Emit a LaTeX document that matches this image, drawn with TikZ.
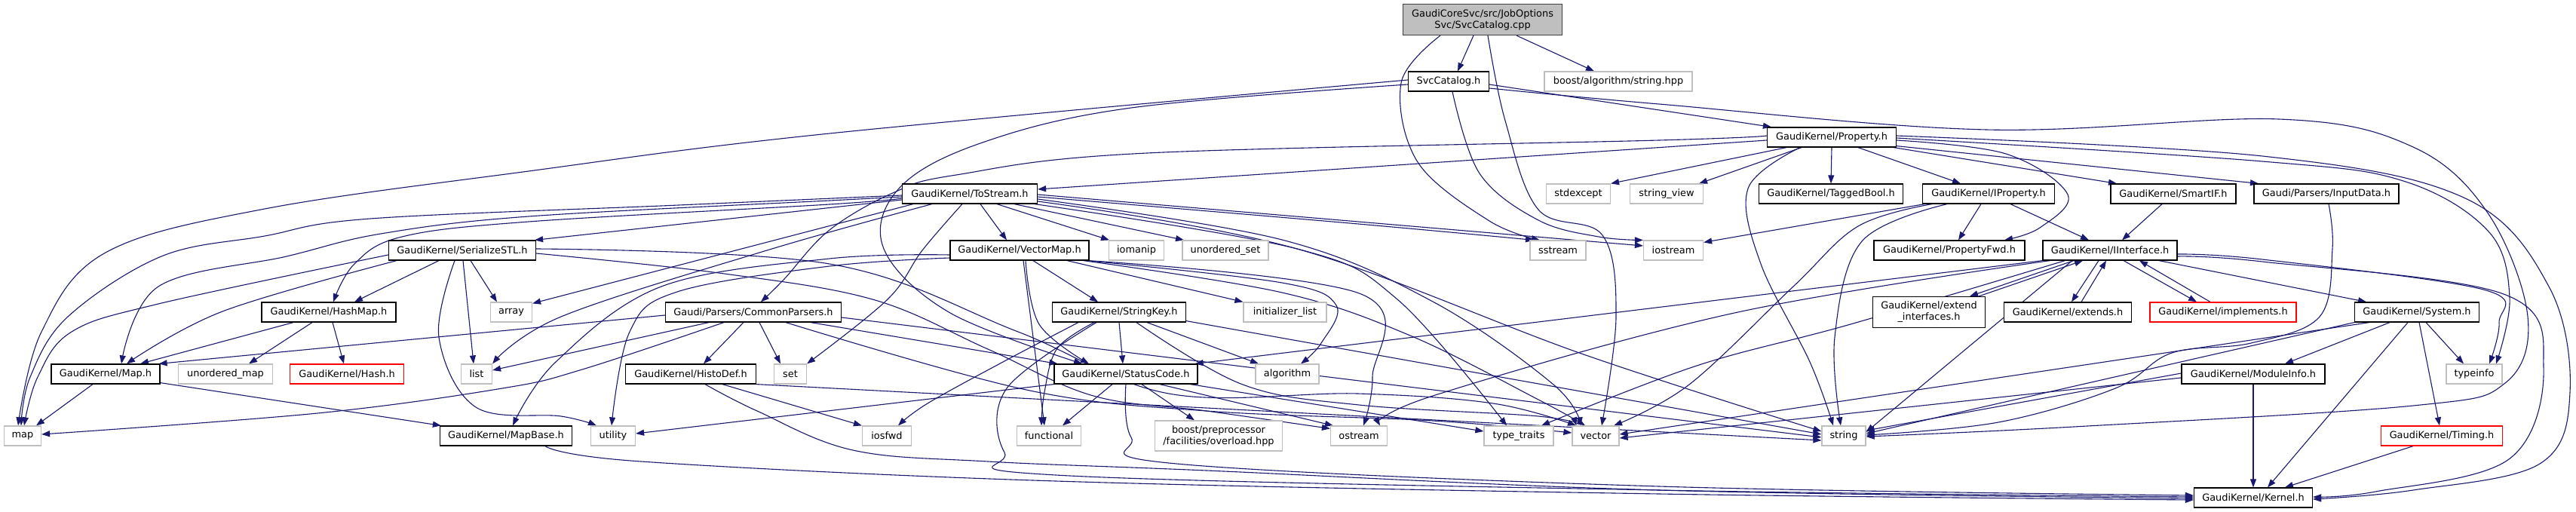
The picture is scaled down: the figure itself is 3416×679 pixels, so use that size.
\documentclass[tikz,border=0pt]{standalone}
\usepackage{fontspec}
\setmainfont{DejaVu Sans}
\usetikzlibrary{arrows.meta}
\definecolor{edgeblue}{HTML}{191970}
\definecolor{sysgray}{HTML}{BFBFBF}
\definecolor{rootborder}{HTML}{404040}
\pgfdeclarelayer{background}
\pgfdeclarelayer{edges}
\pgfsetlayers{background,edges,main}
\newcommand{\nodefont}{\fontsize{12.9bp}{15bp}\selectfont}
\tikzset{
  nd/.style={draw=black, line width=1.2bp, fill=white, minimum height=26bp, inner sep=0pt, font=\nodefont, align=center},
  sysnd/.style={nd, draw=sysgray},
  rednd/.style={nd, draw=red},
  rootnd/.style={nd, draw=rootborder, fill=sysgray, minimum height=41bp},
  e/.style={draw=edgeblue, line width=1.1bp, -{Triangle[length=11bp,width=8bp]}},
  sm/.style={smooth, tension=0.6}
}
\begin{document}
\begin{tikzpicture}[x=1bp, y=-1bp]
\begin{pgfonlayer}{background}
\fill[white] (0,0) rectangle (3416,679);
\end{pgfonlayer}
\useasboundingbox (0,0) rectangle (3416,679);
% ---- nodes ----
\node[rootnd, minimum width=211bp] (root) at (1966,26) {GaudiCoreSvc/src/JobOptions\\Svc/SvcCatalog.cpp};
\node[nd, minimum width=107bp] (svch) at (1921,108) {SvcCatalog.h};
\node[sysnd, minimum width=196bp] (boost) at (2146,108) {boost/algorithm/string.hpp};
\node[nd, minimum width=171bp] (prop) at (2429,182) {GaudiKernel/Property.h};
\node[nd, minimum width=179bp] (tostream) at (1286,257) {GaudiKernel/ToStream.h};
\node[sysnd, minimum width=85bp] (stdexcept) at (2093,257) {stdexcept};
\node[sysnd, minimum width=97bp] (stringview) at (2210,257) {string\_view};
\node[nd, minimum width=191bp] (tagged) at (2428,257) {GaudiKernel/TaggedBool.h};
\node[nd, minimum width=175bp] (iprop) at (2637,257) {GaudiKernel/IProperty.h};
\node[nd, minimum width=166bp] (smartif) at (2882,257) {GaudiKernel/SmartIF.h};
\node[nd, minimum width=192bp] (inputdata) at (3085,257) {Gaudi/Parsers/InputData.h};
\node[nd, minimum width=195bp] (serial) at (613,332) {GaudiKernel/SerializeSTL.h};
\node[nd, minimum width=184bp] (vectormap) at (1352,332) {GaudiKernel/VectorMap.h};
\node[sysnd, minimum width=73bp] (iomanip) at (1507,332) {iomanip};
\node[sysnd, minimum width=114bp] (unordset) at (1625,332) {unordered\_set};
\node[sysnd, minimum width=74bp] (sstream) at (2066,332) {sstream};
\node[sysnd, minimum width=79bp] (iostream) at (2219,332) {iostream};
\node[nd, minimum width=200bp] (propfwd) at (2585,332) {GaudiKernel/PropertyFwd.h};
\node[nd, minimum width=178bp] (iinterface) at (2798,332) {GaudiKernel/IInterface.h};
\node[nd, minimum width=178bp] (hashmap) at (436,414) {GaudiKernel/HashMap.h};
\node[sysnd, minimum width=55bp] (array) at (678,414) {array};
\node[nd, minimum width=233bp] (commonparsers) at (999,414) {Gaudi/Parsers/CommonParsers.h};
\node[nd, minimum width=177bp] (stringkey) at (1484,414) {GaudiKernel/StringKey.h};
\node[sysnd, minimum width=110bp] (initlist) at (1704,414) {initializer\_list};
\node[nd, minimum width=149bp, minimum height=41bp] (extendif) at (2558,414) {GaudiKernel/extend\\\_interfaces.h};
\node[nd, minimum width=169bp] (extends) at (2742,414) {GaudiKernel/extends.h};
\node[rednd, minimum width=194bp] (implements) at (2948,414) {GaudiKernel/implements.h};
\node[nd, minimum width=165bp] (system) at (3205,414) {GaudiKernel/System.h};
\node[nd, minimum width=144bp] (mapH) at (140,496) {GaudiKernel/Map.h};
\node[sysnd, minimum width=125bp] (unordmap) at (299,496) {unordered\_map};
\node[rednd, minimum width=151bp] (hash) at (460,496) {GaudiKernel/Hash.h};
\node[sysnd, minimum width=41bp] (list) at (632,496) {list};
\node[nd, minimum width=173bp] (histodef) at (916,496) {GaudiKernel/HistoDef.h};
\node[sysnd, minimum width=43bp] (set) at (1048,496) {set};
\node[nd, minimum width=190bp] (statuscode) at (1493,496) {GaudiKernel/StatusCode.h};
\node[sysnd, minimum width=84bp] (algorithm) at (1707,496) {algorithm};
\node[nd, minimum width=190bp] (moduleinfo) at (2988,496) {GaudiKernel/ModuleInfo.h};
\node[sysnd, minimum width=74bp] (typeinfo) at (3281,496) {typeinfo};
\node[sysnd, minimum width=49bp] (map) at (30,578) {map};
\node[nd, minimum width=175bp] (mapbase) at (671,578) {GaudiKernel/MapBase.h};
\node[sysnd, minimum width=59bp] (utility) at (813,578) {utility};
\node[sysnd, minimum width=65bp] (iosfwd) at (1176,578) {iosfwd};
\node[sysnd, minimum width=85bp] (functional) at (1391,578) {functional};
\node[sysnd, minimum width=169bp, minimum height=40bp] (boostpp) at (1616,578) {boost/preprocessor\\/facilities/overload.hpp};
\node[sysnd, minimum width=75bp] (ostream) at (1802,578) {ostream};
\node[sysnd, minimum width=92bp] (typetraits) at (2014,578) {type\_traits};
\node[sysnd, minimum width=62bp] (vector) at (2116,578) {vector};
\node[sysnd, minimum width=58bp] (string) at (2445,578) {string};
\node[rednd, minimum width=161bp] (timing) at (3238,578) {GaudiKernel/Timing.h};
\node[nd, minimum width=157bp] (kernel) at (2988,660) {GaudiKernel/Kernel.h};
% ---- edges ----
\begin{pgfonlayer}{edges}
% root
\draw[e] ([xshift=-12bp]root.south) -- ([xshift=12bp]svch.north);
\draw[e] ([xshift=45bp]root.south) -- ([xshift=-32bp]boost.north);
\draw[e] plot[sm] coordinates {([xshift=-56bp]root.south) (1858,110) (1880,215) (1975,293) ([xshift=-24bp]sstream.north)};
\draw[e] plot[sm] coordinates {([xshift=7bp]root.south) (1996,160) (2040,278) (2125,312) (2143,420) ([xshift=8bp]vector.north)};
% svch
\draw[e] ([yshift=-4bp]svch.east) -- ([xshift=6bp]prop.north west);
\draw[e] plot[sm] coordinates {([yshift=-9bp]svch.east) (2200,138) (2634,172) (3022,158) (3200,195) (3300,284) (3352,420) (3322,508) (3200,538) (2750,566) ([yshift=-1bp]string.east)};
\draw[e] plot[sm] coordinates {([yshift=2bp]svch.west) (1100,177) (701,227) (351,277) (140,335) (55,440) ([xshift=-6bp]map.north)};
\draw[e] plot[sm] coordinates {([yshift=-4bp]svch.west) (1500,143) (1300,190) (1192,250) (1172,330) (1260,415) ([xshift=-58bp]statuscode.north)};
\draw[e] plot[sm] coordinates {([xshift=5bp]svch.south) (1962,230) (2040,292) (2120,314) (iostream.north west)};
% prop
\draw[e] ([yshift=-4bp]prop.west) -- ([yshift=6bp]tostream.east);
\draw[e] plot[sm] coordinates {([yshift=2bp]prop.west) (2200,186) (1521,203) (1268,232) (1186,255) (1100,305) (1040,370) ([xshift=10bp]commonparsers.north)};
\draw[e] ([xshift=-60bp]prop.south) -- (stdexcept.north east);
\draw[e] ([xshift=-40bp]prop.south) -- ([xshift=-6bp]stringview.north east);
\draw[e] plot[sm] coordinates {([xshift=-42bp]prop.south) (2318,250) (2335,350) (2400,480) ([xshift=-14bp]string.north)};
\draw[e] (prop.south) -- (tagged.north);
\draw[e] ([xshift=35bp]prop.south) -- ([xshift=-37bp]iprop.north);
\draw[e] ([xshift=-4bp]prop.south east) -- ([xshift=-75bp]smartif.north);
\draw[e] ([yshift=2bp]prop.south east) -- ([xshift=-90bp]inputdata.north);
\draw[e] plot[sm] coordinates {([yshift=-4bp]prop.east) (2660,204) (2742,258) (2705,302) ([xshift=73bp]propfwd.north)};
\draw[e] plot[sm] coordinates {([yshift=-1bp]prop.east) (3000,214) (3187,240) (3300,307) (3328,395) ([xshift=29bp]typeinfo.north)};
\draw[e] plot[sm] coordinates {([yshift=2bp]prop.east) (3000,207) (3267,262) (3380,380) (3408,520) (3368,615) (3200,650) ([yshift=-2bp]kernel.east)};
% iprop
\draw[e] ([xshift=-85bp]iprop.south) -- ([yshift=-3bp]iostream.north east);
\draw[e] plot[sm] coordinates {([xshift=-75bp]iprop.south) (2464,300) (2378,380) (2240,510) ([xshift=24bp]vector.north)};
\draw[e] plot[sm] coordinates {([xshift=-55bp]iprop.south) (2469,320) (2433,447) ([xshift=-4bp]string.north)};
\draw[e] ([xshift=-10bp]iprop.south) -- ([xshift=12bp]propfwd.north);
\draw[e] ([xshift=29bp]iprop.south) -- ([xshift=-28bp]iinterface.north);
% smartif, inputdata
\draw[e] ([xshift=-15bp]smartif.south) -- ([xshift=16bp]iinterface.north);
\draw[e] plot[sm] coordinates {([xshift=3bp]inputdata.south) (3093,330) (3076,420) (2985,455) (2880,468) (2805,515) (2650,560) ([yshift=1bp]string.east)};
% iinterface
\draw[e] ([xshift=-48bp]iinterface.south) -- ([xshift=54bp]extendif.north);
\draw[e] ([xshift=66bp]extendif.north) -- ([xshift=-36bp]iinterface.south);
\draw[e] ([xshift=-15bp]iinterface.south) -- ([xshift=5bp]extends.north);
\draw[e] ([xshift=18bp]extends.north) -- ([xshift=-5bp]iinterface.south);
\draw[e] ([xshift=18bp]iinterface.south) -- ([xshift=-35bp]implements.north);
\draw[e] ([xshift=-17bp]implements.north) -- ([xshift=39bp]iinterface.south);
\draw[e] ([xshift=65bp]iinterface.south) -- ([xshift=-67bp]system.north);
\draw[e] plot[sm] coordinates {([yshift=-5bp]iinterface.east) (3000,344) (3293,384) (3314,428) ([xshift=20bp]typeinfo.north)};
\draw[e] plot[sm] coordinates {([yshift=-8bp]iinterface.east) (3000,347) (3320,390) (3373,487) (3327,609) (3150,652) ([yshift=1bp]kernel.east)};
\draw[e] (iinterface.south west) -- ([xshift=-4bp]statuscode.north east);
\draw[e] plot[sm] coordinates {([xshift=10bp]iinterface.south west) (2300,415) (1900,525) ([xshift=28bp]ostream.north)};
\draw[e] plot[sm] coordinates {([xshift=30bp]iinterface.south west) (2454,430) (2250,485) ([xshift=30bp]typetraits.north)};
\draw[e] ([xshift=-50bp]iinterface.south) -- ([yshift=5bp]string.east);
% system
\draw[e] ([xshift=-36bp]system.south) -- ([xshift=42bp]moduleinfo.north);
\draw[e] ([xshift=12bp]system.south) -- ([xshift=-14bp]typeinfo.north);
\draw[e] ([xshift=3bp]system.south) -- ([xshift=-3bp]timing.north);
\draw[e] ([xshift=-12bp]system.south) -- ([xshift=19bp]kernel.north);
\draw[e] (system.south west) -- ([yshift=3bp]string.east);
\draw[e] ([xshift=20bp]system.south west) -- ([yshift=2bp]vector.east);
% moduleinfo, timing
\draw[e] (moduleinfo.south) -- (kernel.north);
\draw[e] ([yshift=1bp]moduleinfo.west) -- ([yshift=7bp]string.east);
\draw[e] ([yshift=-5bp]moduleinfo.west) -- ([yshift=-3bp]vector.east);
\draw[e] ([xshift=-38bp]timing.south) -- ([xshift=42bp]kernel.north);
% statuscode
\draw[e] (statuscode.south west) -- ([yshift=3bp]utility.east);
\draw[e] ([xshift=-18bp]statuscode.south) -- ([xshift=18bp]functional.north);
\draw[e] ([xshift=21bp]statuscode.south) -- ([xshift=-32bp]boostpp.north);
\draw[e] ([xshift=45bp]statuscode.south) -- ([xshift=4bp]ostream.north west);
\draw[e] ([xshift=-10bp]statuscode.south east) -- ([yshift=6bp]typetraits.west);
\draw[e] plot[sm] coordinates {(statuscode.south) (1500,580) (1560,615) (2200,645) ([yshift=3bp]kernel.west)};
% stringkey
\draw[e] (stringkey.south) -- ([xshift=-4bp]statuscode.north);
\draw[e] ([xshift=37bp]stringkey.south) -- ([xshift=-38bp]algorithm.north);
\draw[e] plot[sm] coordinates {([xshift=-54bp]stringkey.south) (1330,480) (1230,535) ([xshift=15bp]iosfwd.north)};
\draw[e] plot[sm] coordinates {([xshift=-33bp]stringkey.south) (1402,462) (1385,520) ([xshift=-10bp]functional.north)};
\draw[e] plot[sm] coordinates {([xshift=-30bp]stringkey.south) (1335,515) (1332,600) (1400,630) (2200,650) ([yshift=1bp]kernel.west)};
\draw[e] ([yshift=2bp]stringkey.south east) -- ([yshift=2bp]string.west);
\draw[e] plot[sm] coordinates {([xshift=23bp]stringkey.south) (1648,510) (1802,537) (2040,552) ([xshift=6bp]vector.north west)};
% vectormap
\draw[e] ([xshift=18bp]vectormap.south) -- ([xshift=-28bp]stringkey.north);
\draw[e] ([xshift=63bp]vectormap.south) -- (initlist.north west);
\draw[e] plot[sm] coordinates {([xshift=8bp]vectormap.south) (1378,430) ([xshift=-49bp]statuscode.north)};
\draw[e] ([xshift=5bp]vectormap.south) -- ([xshift=-6bp]functional.north);
\draw[e] plot[sm] coordinates {([xshift=-4bp]vectormap.south east) (1700,375) (1772,405) (1752,455) ([xshift=18bp]algorithm.north)};
\draw[e] plot[sm] coordinates {([xshift=-2bp]vectormap.south east) (1805,390) (1820,500) ([xshift=6bp]ostream.north)};
\draw[e] plot[sm] coordinates {([xshift=-8bp]vectormap.south east) (1700,388) (1870,445) (2040,530) ([xshift=-14bp]vector.north)};
\draw[e] plot[sm] coordinates {([yshift=-6bp]vectormap.west) (1100,343) (877,380) (737,480) ([xshift=9bp]mapbase.north)};
\draw[e] plot[sm] coordinates {([yshift=-10bp]vectormap.west) (1100,353) (898,387) (835,440) ([xshift=-2bp]utility.north)};
% tostream
\draw[e] ([yshift=-8bp]tostream.west) -- ([xshift=-2bp]serial.north east);
\draw[e] plot[sm] coordinates {([yshift=-2bp]tostream.west) (900,272) (491,290) (351,313) (214,340) (90,420) (40,500) ([xshift=-2bp]map.north)};
\draw[e] plot[sm] coordinates {([yshift=-4bp]tostream.west) (1100,266) (701,287) (505,310) (380,340) (210,380) ([xshift=21bp]mapH.north)};
\draw[e] plot[sm] coordinates {([yshift=-6bp]tostream.west) (1100,271) (701,294) (533,314) (470,350) ([xshift=6bp]hashmap.north)};
\draw[e] ([xshift=15bp]tostream.south west) -- ([yshift=-2bp]array.north east);
\draw[e] plot[sm] coordinates {([xshift=40bp]tostream.south west) (1017,332) (744,420) (list.north east)};
\draw[e] plot[sm] coordinates {([xshift=-10bp]tostream.south) (1223,332) (1177,397) (set.north east)};
\draw[e] ([xshift=14bp]tostream.south) -- ([xshift=-17bp]vectormap.north);
\draw[e] ([xshift=36bp]tostream.south) -- ([xshift=-36bp]iomanip.north);
\draw[e] ([xshift=59bp]tostream.south) -- ([xshift=-55bp]unordset.north);
\draw[e] plot[sm] coordinates {([yshift=-4bp]tostream.east) (1790,296) ([xshift=-32bp]sstream.north)};
\draw[e] ([yshift=-1bp]tostream.east) -- ([yshift=6bp]iostream.west);
\draw[e] plot[sm] coordinates {([yshift=-10bp]tostream.east) (1720,330) (2100,470) ([yshift=6bp]string.west)};
\draw[e] plot[sm] coordinates {([yshift=-7bp]tostream.east) (1700,318) (1900,400) (2060,510) ([xshift=-20bp]vector.north)};
\draw[e] plot[sm] coordinates {([xshift=-4bp]tostream.south east) (1720,330) (1853,397) ([xshift=-16bp]typetraits.north)};
% hashmap
\draw[e] ([xshift=-47bp]hashmap.south) -- ([xshift=46bp]mapH.north);
\draw[e] ([xshift=-22bp]hashmap.south) -- ([xshift=31bp]unordmap.north);
\draw[e] ([xshift=5bp]hashmap.south) -- ([xshift=-4bp]hash.north);
% serial
\draw[e] plot[sm] coordinates {([yshift=-6bp]serial.west) (210,403) (95,440) (50,500) ([xshift=2bp]map.north)};
\draw[e] plot[sm] coordinates {([xshift=-87bp]serial.south) (295,413) ([xshift=28bp]mapH.north)};
\draw[e] ([xshift=-31bp]serial.south) -- ([xshift=34bp]hashmap.north);
\draw[e] ([xshift=11bp]serial.south) -- ([xshift=-19bp]array.north);
\draw[e] ([xshift=1bp]serial.south) -- ([xshift=-4bp]list.north);
\draw[e] plot[sm] coordinates {([xshift=-10bp]serial.south) (582,447) (631,540) (744,552) ([xshift=-22bp]utility.north)};
\draw[e] plot[sm] coordinates {([yshift=-4bp]serial.east) (953,362) (1157,397) (1310,463) (1450,525) (1600,545) ([yshift=-4bp]ostream.north west)};
\draw[e] plot[sm] coordinates {([yshift=2bp]serial.east) (1100,350) (1350,440) (1550,522) (1800,522) (1980,535) ([xshift=-26bp]vector.north)};
% mapH, mapbase
\draw[e] ([xshift=-17bp]mapH.south) -- ([xshift=18bp]map.north);
\draw[e] ([yshift=2bp]mapH.south east) -- ([xshift=2bp]mapbase.north west);
\draw[e] plot[sm] coordinates {([xshift=52bp]mapbase.south) (850,612) (1400,638) (2200,655) ([yshift=-3bp]kernel.west)};
% commonparsers
\draw[e] ([yshift=-4bp]commonparsers.west) -- ([xshift=-2bp]mapH.north east);
\draw[e] ([xshift=-59bp]commonparsers.south) -- ([yshift=5bp]list.east);
\draw[e] plot[sm] coordinates {([xshift=-39bp]commonparsers.south) (772,490) (666,515) (421,548) ([yshift=2bp]map.east)};
\draw[e] ([xshift=-13bp]commonparsers.south) -- ([xshift=17bp]histodef.north);
\draw[e] ([xshift=8bp]commonparsers.south) -- ([xshift=-13bp]set.north);
\draw[e] ([xshift=76bp]commonparsers.south) -- ([xshift=5bp]statuscode.north west);
\draw[e] ([yshift=-7bp]commonparsers.east) -- ([yshift=-2bp]string.west);
\draw[e] plot[sm] coordinates {([xshift=43bp]commonparsers.south) (1361,517) (1600,545) (1900,558) ([yshift=4bp]vector.west)};
% histodef
\draw[e] ([xshift=42bp]histodef.south) -- (iosfwd.north west);
\draw[e] plot[sm] coordinates {([xshift=19bp]histodef.south) (1004,545) (1131,597) (1310,612) (1600,624) (2200,650) ([yshift=-1bp]kernel.west)};
\draw[e] (histodef.south east) -- ([yshift=-6bp]string.west);
\end{pgfonlayer}
\end{tikzpicture}
\end{document}
